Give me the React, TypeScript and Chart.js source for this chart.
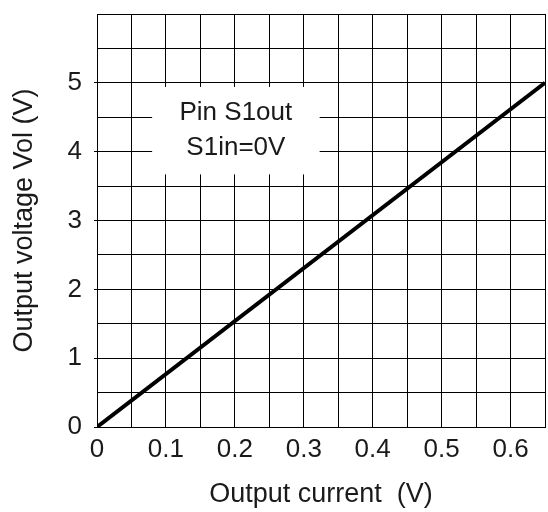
import React, { useEffect, useRef } from "react";
import { Chart, registerables } from "chart.js";

Chart.register(...registerables);

const currentValues: number[] = [0, 0.65];
const voltageValues: number[] = [0, 5.0];
const xTickLabels: string[] = ["0", "0.1", "0.2", "0.3", "0.4", "0.5", "0.6"];
const yTickLabels: string[] = ["0", "1", "2", "3", "4", "5"];
const noteLines: string[] = ["Pin S1out", "S1in=0V"];
const xTitle = "Output current  (V)";
const yTitle = "Output voltage Vol (V)";

// annotation box placement in data units
const noteBox = { x0: 0.08, x1: 0.323, y0: 4.94, y1: 3.67 };

const FONT = "'Liberation Sans', Arial, sans-serif";
const INK = "#1a1a1a";

const notePlugin = {
  id: "notePlugin",
  beforeDatasetsDraw(chart: any) {
    const { ctx, scales } = chart;
    const xs = scales.x;
    const ys = scales.y;
    const l = xs.getPixelForValue(noteBox.x0);
    const r = xs.getPixelForValue(noteBox.x1);
    const t = ys.getPixelForValue(noteBox.y0);
    const b = ys.getPixelForValue(noteBox.y1);
    ctx.save();
    ctx.fillStyle = "#fff";
    ctx.fillRect(l, t, r - l, b - t);
    ctx.fillStyle = INK;
    ctx.font = `26px ${FONT}`;
    ctx.textAlign = "center";
    ctx.textBaseline = "middle";
    const cx = (l + r) / 2;
    const cy = (t + b) / 2;
    const gap = 35;
    noteLines.forEach((line, i) => {
      ctx.fillText(line, cx, cy + (i - (noteLines.length - 1) / 2) * gap);
    });
    ctx.restore();
  },
};

export default function App() {
  const ref = useRef<HTMLCanvasElement | null>(null);
  useEffect(() => {
    if (!ref.current) return;
    const chart = new Chart(ref.current, {
      type: "scatter",
      data: {
        datasets: [
          {
            data: currentValues.map((x, i) => ({ x, y: voltageValues[i] })),
            showLine: true,
            borderColor: "#000",
            borderWidth: 4,
            pointRadius: 0,
            fill: false,
          },
        ],
      },
      plugins: [notePlugin],
      options: {
        responsive: false,
        animation: false,
        devicePixelRatio: 1,
        layout: { padding: { left: 0, top: 14, right: 3, bottom: 0 } },
        plugins: { legend: { display: false }, tooltip: { enabled: false } },
        scales: {
          x: {
            type: "linear",
            min: 0,
            max: 0.65,
            afterFit: (s: any) => {
              s.height = 85;
              s.paddingRight = 0;
              s.paddingLeft = 0;
            },
            ticks: {
              stepSize: 0.05,
              autoSkip: false,
              maxRotation: 0,
              padding: 7,
              color: INK,
              font: { family: FONT, size: 26 },
              callback: (v: any) => {
                const n = Number(v);
                const k = Math.round(n * 10);
                if (Math.abs(n * 10 - k) < 1e-6 && k < xTickLabels.length) return xTickLabels[k];
                return "";
              },
            },
            grid: { color: "#000", lineWidth: 1, drawTicks: false },
            border: { color: "#000", width: 1 },
            title: {
              display: true,
              text: xTitle,
              color: INK,
              font: { family: FONT, size: 27 },
              padding: { top: 0, bottom: 1 },
            },
          },
          y: {
            type: "linear",
            min: 0,
            max: 6,
            afterFit: (s: any) => {
              s.width = 97;
              s.paddingTop = 0;
              s.paddingBottom = 0;
            },
            ticks: {
              stepSize: 0.5,
              autoSkip: false,
              padding: 12,
              color: INK,
              font: { family: FONT, size: 26 },
              callback: (v: any) => {
                const n = Number(v);
                if (Number.isInteger(n) && n < yTickLabels.length) return yTickLabels[n];
                return "";
              },
            },
            grid: {
              color: "#000",
              lineWidth: 1,
              tickLength: 3,
              tickColor: (c: any) =>
                c.tick && Number.isInteger(c.tick.value) && c.tick.value < 6 ? "#000" : "rgba(0,0,0,0)",
            },
            border: { color: "#000", width: 1 },
            title: {
              display: true,
              text: yTitle,
              color: INK,
              font: { family: FONT, size: 27 },
              padding: { top: 8, bottom: 0 },
            },
          },
        },
      },
    });
    return () => chart.destroy();
  }, []);
  return (
    <div style={{ position: "fixed", left: 0, top: 0, width: 548, height: 512, background: "#fff" }}>
      <canvas ref={ref} width={548} height={512} style={{ display: "block" }} />
    </div>
  );
}
